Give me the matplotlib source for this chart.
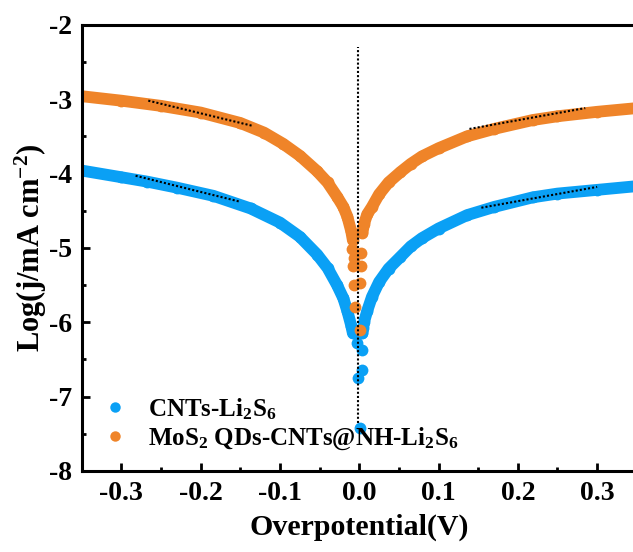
import matplotlib
matplotlib.use("Agg")
import matplotlib.pyplot as plt
from matplotlib.ticker import MultipleLocator

plt.rcParams['font.family'] = ['Liberation Serif', 'DejaVu Serif']
plt.rcParams['font.weight'] = 'bold'
plt.rcParams['mathtext.fontset'] = 'custom'
plt.rcParams['mathtext.rm'] = 'Liberation Serif:bold'
plt.rcParams['mathtext.it'] = 'Liberation Serif:bold'
plt.rcParams['mathtext.bf'] = 'Liberation Serif:bold'
plt.rcParams['axes.unicode_minus'] = False

# ---------------- data ----------------
# CNTs-Li2S6 : continuous branches
cnt_left_x = [-0.35, -0.30, -0.267, -0.23, -0.184, -0.137, -0.10, -0.075, -0.053, -0.04, -0.028, -0.020, -0.015, -0.010, -0.008]
cnt_left_y = [-3.96, -4.05, -4.11, -4.19, -4.30, -4.47, -4.66, -4.85, -5.09, -5.27, -5.50, -5.68, -5.85, -6.05, -6.15]
cnt_right_x = [0.004, 0.006, 0.010, 0.016, 0.025, 0.037, 0.052, 0.065, 0.079, 0.10, 0.136, 0.17, 0.219, 0.25, 0.30, 0.35]
cnt_right_y = [-6.15, -6.00, -5.85, -5.66, -5.46, -5.28, -5.12, -4.98, -4.87, -4.74, -4.56, -4.45, -4.32, -4.27, -4.22, -4.17]
# scattered points near zero
cnt_zero_x = [-0.005, 0.005, -0.003, 0.004, 0.004, -0.001, 0.001]
cnt_zero_y = [-6.14, -6.08, -6.28, -6.37, -6.64, -6.75, -7.42]

# MoS2 QDs-CNTs@NH-Li2S6
mos_left_x = [-0.35, -0.30, -0.25, -0.20, -0.15, -0.12, -0.096, -0.075, -0.053, -0.04, -0.028, -0.020, -0.015, -0.010, -0.008]
mos_left_y = [-2.96, -3.02, -3.09, -3.18, -3.32, -3.45, -3.60, -3.76, -3.97, -4.12, -4.31, -4.45, -4.58, -4.78, -4.90]
mos_right_x = [0.004, 0.006, 0.010, 0.016, 0.025, 0.037, 0.052, 0.065, 0.079, 0.10, 0.136, 0.17, 0.219, 0.25, 0.30, 0.35]
mos_right_y = [-4.80, -4.68, -4.55, -4.45, -4.28, -4.12, -3.98, -3.87, -3.77, -3.66, -3.50, -3.40, -3.28, -3.23, -3.17, -3.12]
mos_zero_x = [-0.009, -0.007, 0.002, -0.008, 0.002, -0.006, -0.005, 0.001, 0.001]
mos_zero_y = [-5.02, -5.13, -5.07, -5.25, -5.25, -5.50, -5.79, -5.47, -6.10]

# Tafel fitting lines (dotted)
fit_cnt_left_x = [-0.282, -0.150]
fit_cnt_left_y = [-4.03, -4.38]
fit_cnt_right_x = [0.154, 0.300]
fit_cnt_right_y = [-4.46, -4.18]
fit_mos_left_x = [-0.266, -0.134]
fit_mos_left_y = [-3.02, -3.36]
fit_mos_right_x = [0.139, 0.285]
fit_mos_right_y = [-3.40, -3.12]
zero_line_x = [-0.002, -0.002]
zero_line_y = [-7.35, -2.30]

labels = [r'CNTs-Li$_{2}$S$_{6}$', r'MoS$_{2}$ QDs-CNTs@NH-Li$_{2}$S$_{6}$']
blue = '#0AA0F5'
orange = '#EF8429'

# ---------------- figure ----------------
fig = plt.figure(figsize=(6.33, 5.52), dpi=100)
ax = fig.add_axes([0.129, 0.147, 0.877, 0.808])

lw_band = 8.5
ms = 8.5

def draw(xl, yl, xr, yr, xz, yz, color, label):
    for xs, ys in ((xl, yl), (xr, yr)):
        ax.plot(xs, ys, color=color, lw=lw_band, solid_capstyle='round',
                solid_joinstyle='round', zorder=2)
        ax.plot(xs, ys, 'o', color=color, ms=ms, mec='none', zorder=2)
    ax.plot(xz, yz, 'o', color=color, ms=ms, mec='none', zorder=2)
    ax.plot([], [], 'o', color=color, ms=7.5, mec='none', label=label)

draw(cnt_left_x, cnt_left_y, cnt_right_x, cnt_right_y, cnt_zero_x, cnt_zero_y, blue, labels[0])
draw(mos_left_x, mos_left_y, mos_right_x, mos_right_y, mos_zero_x, mos_zero_y, orange, labels[1])

for xs, ys in ((fit_cnt_left_x, fit_cnt_left_y), (fit_cnt_right_x, fit_cnt_right_y),
               (fit_mos_left_x, fit_mos_left_y), (fit_mos_right_x, fit_mos_right_y),
               (zero_line_x, zero_line_y)):
    ax.plot(xs, ys, color='black', lw=1.5, ls=(0, (1, 1)), zorder=3)

ax.set_xlim(-0.35, 0.35)
ax.set_ylim(-8, -2)
ax.xaxis.set_major_locator(MultipleLocator(0.1))
ax.xaxis.set_minor_locator(MultipleLocator(0.05))
ax.yaxis.set_major_locator(MultipleLocator(1))
ax.yaxis.set_minor_locator(MultipleLocator(0.5))
ax.set_xticks([-0.3, -0.2, -0.1, 0.0, 0.1, 0.2, 0.3])
ax.set_xticklabels(['-0.3', '-0.2', '-0.1', '0.0', '0.1', '0.2', '0.3'])

for s in ax.spines.values():
    s.set_linewidth(2.2)
ax.spines['right'].set_visible(False)

ax.tick_params(which='both', direction='in', width=2, labelsize=20, top=False, right=False)
ax.tick_params(which='major', length=6, pad=7)
ax.tick_params(which='minor', length=3)
for lab in ax.get_xticklabels() + ax.get_yticklabels():
    lab.set_fontweight('bold')

ax.set_xlabel('Overpotential(V)', fontsize=21.5, fontweight='bold', labelpad=6)
ax.set_ylabel(r'Log(j/mA cm$^{-2}$)', fontsize=22, fontweight='bold', labelpad=0)

leg = ax.legend(loc='lower left', bbox_to_anchor=(0.02, 0.02), frameon=False,
                prop={'size': 18, 'weight': 'bold'}, handletextpad=0.8,
                handlelength=1.0, labelspacing=0.15, borderaxespad=0.0)

fig.savefig('out.png', dpi=100)
